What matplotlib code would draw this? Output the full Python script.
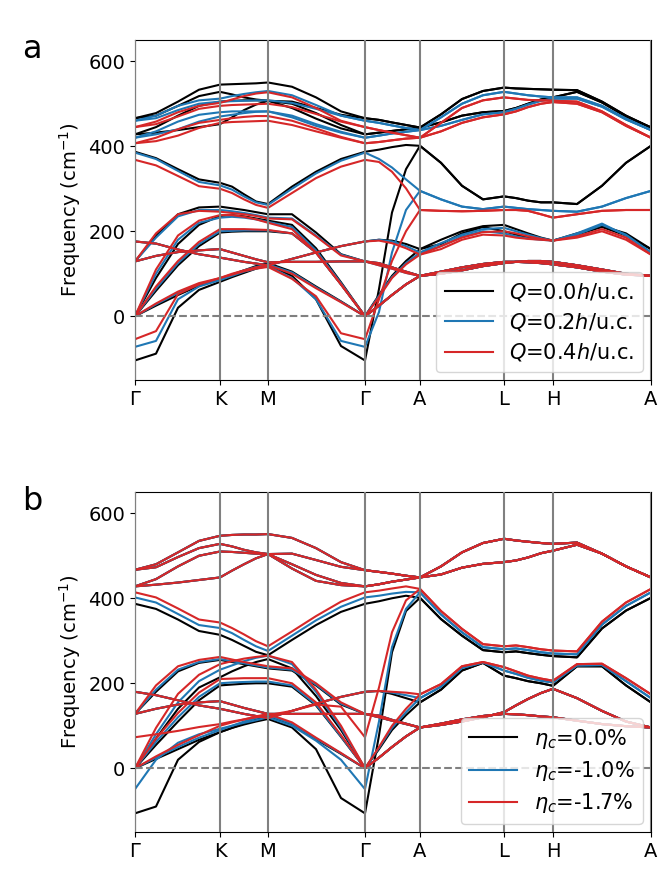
import matplotlib.pyplot as plt

# k-path positions (4 steps per segment) and high-symmetry points
kpath = [0, 21, 43, 64, 85, 97, 109, 121, 133, 157, 181, 206, 230, 244, 257, 271, 285,
         306, 327, 348, 369, 381, 393, 406, 418, 442, 467, 491, 516]
kticks = [0, 85, 133, 230, 285, 369, 418, 516]
klabels = ['Γ', 'K', 'M', 'Γ', 'A', 'L', 'H', 'A']

colors = ['black', '#1f77b4', '#d62728']
labels_a = [r'$Q$=0.0$h$/u.c.', r'$Q$=0.2$h$/u.c.', r'$Q$=0.4$h$/u.c.']
labels_b = [r'$\eta_c$=0.0%', r'$\eta_c$=-1.0%', r'$\eta_c$=-1.7%']

# ---------------- panel a : hole doping ----------------
# values along A-L-H-A (after the first A)
tU1_a0 = [475, 511, 530, 538, 536, 535, 534, 533, 532, 505, 472, 444]
tU2_a0 = [456, 472, 480, 483, 490, 500, 510, 515, 528, 503, 470, 444]
tD_a0 = [361, 307, 275, 282, 278, 272, 268, 268, 264, 307, 361, 401]
tHump_a0 = [180, 200, 212, 215, 205, 195, 185, 178, 195, 212, 195, 158]
tHump2_a0 = [170, 195, 210, 200, 192, 186, 182, 178, 192, 210, 190, 158]
tLow_a = [105, 115, 123, 128, 128, 127, 125, 122, 115, 105, 98, 95]
tLow2_a = [100, 108, 118, 125, 128, 130, 130, 128, 120, 110, 100, 95]

tU1_a2 = [468, 500, 520, 528, 524, 520, 517, 515, 515, 495, 465, 438]
tU2_a2 = [448, 462, 475, 480, 488, 498, 507, 512, 512, 493, 463, 438]
tD_a2 = [275, 258, 252, 258, 255, 252, 250, 248, 246, 258, 278, 295]
tHump_a2 = [172, 192, 205, 208, 200, 192, 184, 178, 192, 215, 192, 150]
tHump2_a2 = [165, 188, 200, 195, 188, 183, 180, 178, 195, 218, 190, 150]

tU1_a4 = [455, 490, 508, 515, 512, 509, 508, 507, 505, 482, 450, 420]
tU2_a4 = [435, 455, 468, 475, 482, 492, 500, 504, 500, 480, 448, 420]
tD_a4 = [248, 247, 248, 250, 250, 248, 240, 232, 240, 248, 250, 250]
tHump_a4 = [165, 185, 198, 200, 195, 188, 182, 178, 188, 205, 185, 145]
tHump2_a4 = [158, 180, 192, 190, 185, 182, 180, 178, 185, 200, 180, 145]

# Γ-K-M-Γ-A part, Q = 0.0
U1_a0 = [466, 478, 505, 533, 545, 546, 547, 548, 550, 540, 515, 482, 466, 462, 456, 450, 444]
U2_a0 = [466, 472, 495, 518, 528, 522, 515, 510, 507, 505, 490, 474, 466, 462, 456, 450, 444]
U3_a0 = [428, 445, 472, 495, 505, 507, 508, 508, 507, 500, 478, 450, 428, 432, 436, 440, 444]
U4_a0 = [428, 432, 438, 445, 452, 468, 485, 498, 507, 490, 465, 442, 428, 432, 436, 440, 444]
E_a0 = [387, 372, 346, 322, 314, 305, 287, 270, 264, 305, 340, 370, 387, 392, 398, 403, 401]
S_a0 = [-104, -88, 20, 62, 81, 92, 102, 112, 120, 95, 40, -70, -104, 64, 244, 346, 401]
L1_a0 = [129, 189, 240, 256, 258, 254, 250, 245, 240, 240, 197, 146, 129, 122, 115, 104, 95]
L2_a0 = [176, 171, 157, 146, 138, 133, 128, 124, 120, 135, 150, 165, 176, 180, 178, 170, 158]
L3_a = [129, 142, 151, 155, 158, 150, 142, 134, 127, 128, 128, 129, 129, 125, 115, 105, 95]
A1_a0 = [0, 90, 170, 215, 236, 238, 235, 230, 225, 215, 160, 80, 0, 50, 95, 130, 158]
A2_a0 = [0, 60, 120, 165, 197, 199, 200, 200, 200, 195, 150, 75, 0, 25, 50, 75, 95]
A3_a0 = [0, 25, 50, 72, 88, 98, 108, 118, 125, 105, 70, 35, 0, 25, 50, 75, 95]

# Q = 0.2
U1_a2 = [460, 472, 495, 508, 512, 518, 523, 527, 530, 520, 497, 472, 460, 455, 449, 443, 438]
U2_a2 = [460, 466, 485, 500, 505, 506, 507, 508, 508, 502, 488, 472, 460, 455, 449, 443, 438]
U3_a2 = [420, 435, 458, 474, 480, 482, 482, 482, 482, 472, 452, 434, 420, 425, 430, 434, 438]
U4_a2 = [420, 428, 440, 458, 470, 474, 478, 481, 482, 468, 448, 432, 420, 425, 430, 434, 438]
E_a2 = [385, 370, 342, 316, 308, 298, 282, 268, 262, 300, 336, 366, 385, 370, 350, 322, 295]
S_a2 = [-72, -58, 40, 70, 85, 95, 105, 112, 118, 90, 40, -58, -72, 10, 150, 250, 295]
L1_a2 = [129, 185, 235, 250, 250, 247, 243, 238, 232, 230, 190, 145, 129, 120, 112, 102, 95]
L2_a2 = [176, 171, 157, 146, 138, 133, 128, 124, 120, 135, 150, 165, 176, 180, 176, 165, 150]
A1_a2 = [0, 100, 180, 220, 232, 234, 232, 228, 222, 210, 155, 78, 0, 48, 92, 125, 150]
A2_a2 = [0, 65, 125, 170, 200, 201, 202, 202, 202, 195, 150, 75, 0, 25, 50, 75, 95]
A3_a2 = [0, 28, 55, 75, 88, 98, 108, 116, 122, 103, 68, 34, 0, 25, 50, 75, 95]

# Q = 0.4
U1_a4 = [445, 458, 480, 495, 502, 510, 518, 524, 527, 515, 490, 460, 445, 438, 432, 426, 420]
U2_a4 = [445, 452, 470, 488, 495, 497, 498, 499, 500, 492, 476, 458, 445, 438, 432, 426, 420]
U3_a4 = [407, 420, 440, 455, 462, 466, 469, 471, 471, 460, 442, 422, 407, 410, 414, 418, 420]
U4_a4 = [407, 412, 425, 443, 455, 457, 458, 459, 460, 450, 435, 420, 407, 410, 414, 418, 420]
E_a4 = [368, 355, 330, 306, 300, 290, 275, 262, 255, 290, 325, 352, 368, 363, 340, 301, 250]
S_a4 = [-54, -35, 52, 75, 90, 98, 106, 112, 116, 88, 47, -40, -54, 40, 130, 200, 250]
L1_a4 = [129, 195, 240, 248, 246, 243, 240, 236, 230, 228, 188, 143, 129, 120, 112, 102, 95]
L2_a4 = [176, 171, 157, 146, 138, 133, 128, 124, 120, 135, 150, 165, 176, 178, 172, 160, 145]
A1_a4 = [0, 110, 190, 225, 238, 238, 234, 228, 220, 205, 150, 75, 0, 45, 90, 122, 145]
A2_a4 = [0, 70, 130, 175, 205, 205, 205, 204, 203, 195, 150, 75, 0, 25, 50, 75, 95]
A3_a4 = [0, 30, 58, 78, 90, 100, 108, 115, 120, 100, 66, 33, 0, 25, 50, 75, 95]

bands_a0 = [U1_a0 + tU1_a0, U2_a0 + tU2_a0, U3_a0 + tU2_a0, U4_a0 + tU1_a0,
            E_a0 + tD_a0, S_a0 + tD_a0, L1_a0 + tLow_a, L2_a0 + tHump_a0,
            L3_a + tLow2_a, A1_a0 + tHump2_a0, A2_a0 + tLow_a, A3_a0 + tLow2_a]
bands_a2 = [U1_a2 + tU1_a2, U2_a2 + tU2_a2, U3_a2 + tU2_a2, U4_a2 + tU1_a2,
            E_a2 + tD_a2, S_a2 + tD_a2, L1_a2 + tLow_a, L2_a2 + tHump_a2,
            L3_a + tLow2_a, A1_a2 + tHump2_a2, A2_a2 + tLow_a, A3_a2 + tLow2_a]
bands_a4 = [U1_a4 + tU1_a4, U2_a4 + tU2_a4, U3_a4 + tU2_a4, U4_a4 + tU1_a4,
            E_a4 + tD_a4, S_a4 + tD_a4, L1_a4 + tLow_a, L2_a4 + tHump_a4,
            L3_a + tLow2_a, A1_a4 + tHump2_a4, A2_a4 + tLow_a, A3_a4 + tLow2_a]

# ---------------- panel b : strain ----------------
tUb1 = [475, 508, 530, 540, 536, 533, 530, 528, 531, 505, 475, 449]
tUb2 = [456, 472, 481, 485, 489, 496, 506, 512, 526, 505, 475, 449]
tD_b0 = [351, 312, 278, 273, 275, 271, 267, 264, 261, 329, 371, 401]
tD_b1 = [362, 320, 285, 280, 282, 278, 273, 270, 268, 338, 382, 414]
tD_b2 = [370, 328, 292, 287, 289, 285, 280, 277, 275, 345, 390, 422]
tHump_b0 = [185, 230, 248, 218, 212, 205, 200, 194, 240, 240, 195, 155]
tHump_b1 = [192, 236, 249, 230, 222, 213, 206, 202, 242, 243, 205, 165]
tHump_b2 = [198, 240, 250, 238, 228, 218, 211, 206, 245, 246, 212, 174]
tHpeak_b = [102, 110, 120, 132, 148, 163, 177, 187, 165, 135, 110, 96]
tLow_b = [105, 115, 123, 128, 127, 125, 122, 120, 112, 104, 99, 96]

Ub1 = [467, 480, 508, 535, 547, 549, 550, 550, 551, 542, 518, 485, 466, 462, 458, 453, 449]
Ub2 = [467, 473, 497, 518, 528, 522, 514, 508, 504, 505, 490, 474, 466, 462, 458, 453, 449]
Ub3 = [428, 445, 475, 500, 510, 509, 507, 505, 504, 480, 455, 436, 428, 433, 439, 444, 449]
Ub4 = [428, 432, 437, 443, 449, 465, 480, 494, 504, 470, 441, 431, 428, 433, 439, 444, 449]
Lb3 = [128, 140, 150, 155, 158, 150, 142, 135, 128, 128, 128, 128, 128, 124, 114, 105, 96]

Eb0 = [387, 375, 350, 323, 314, 302, 288, 274, 266, 302, 337, 368, 387, 393, 400, 406, 401]
Eb1 = [402, 390, 363, 337, 330, 318, 302, 287, 276, 312, 348, 380, 402, 406, 411, 415, 414]
Eb2 = [414, 402, 376, 350, 343, 330, 315, 299, 287, 322, 358, 392, 414, 418, 423, 428, 422]
Sb0 = [-106, -90, 20, 62, 85, 95, 103, 110, 116, 96, 45, -70, -106, 77, 273, 370, 401]
Sb1 = [-49, 20, 60, 80, 93, 100, 107, 113, 120, 100, 65, 20, -49, 110, 285, 375, 414]
Sb2 = [73, 80, 88, 97, 104, 110, 115, 120, 125, 135, 150, 145, 73, 190, 320, 395, 422]
Lb1_0 = [128, 180, 228, 248, 255, 250, 245, 240, 235, 230, 195, 150, 128, 120, 112, 104, 96]
Lb1_1 = [128, 185, 232, 250, 257, 252, 247, 242, 237, 232, 197, 152, 128, 120, 112, 104, 96]
Lb1_2 = [128, 195, 240, 255, 262, 256, 250, 245, 240, 235, 200, 155, 128, 120, 112, 104, 96]
Lb2_0 = [180, 172, 160, 148, 140, 134, 128, 123, 118, 135, 152, 168, 180, 182, 175, 165, 155]
Lb2_1 = [180, 172, 160, 148, 140, 134, 128, 123, 118, 135, 152, 168, 180, 182, 178, 172, 165]
Lb2_2 = [180, 172, 160, 148, 140, 134, 128, 123, 118, 135, 152, 168, 180, 182, 180, 178, 174]
Ab1_0 = [0, 70, 140, 190, 214, 228, 240, 250, 257, 235, 170, 90, 0, 45, 90, 125, 155]
Ab1_1 = [0, 80, 155, 205, 232, 242, 252, 260, 265, 245, 180, 95, 0, 48, 95, 132, 165]
Ab1_2 = [0, 95, 175, 220, 245, 252, 258, 262, 265, 250, 185, 100, 0, 50, 100, 140, 174]
Ab2_0 = [0, 55, 110, 160, 195, 197, 199, 200, 200, 192, 148, 74, 0, 25, 50, 75, 96]
Ab2_1 = [0, 62, 120, 168, 200, 202, 203, 204, 204, 195, 150, 75, 0, 25, 50, 75, 96]
Ab2_2 = [0, 70, 130, 178, 210, 211, 212, 212, 212, 200, 155, 78, 0, 25, 50, 75, 96]
Ab3_0 = [0, 22, 45, 67, 85, 95, 105, 115, 122, 102, 68, 34, 0, 25, 50, 75, 96]
Ab3_1 = [0, 25, 50, 72, 90, 100, 110, 118, 125, 105, 70, 35, 0, 25, 50, 75, 96]
Ab3_2 = [0, 28, 55, 78, 100, 108, 115, 122, 128, 108, 72, 36, 0, 25, 50, 75, 96]

bands_b0 = [Ub1 + tUb1, Ub2 + tUb2, Ub3 + tUb2, Ub4 + tUb1, Eb0 + tD_b0, Sb0 + tD_b0,
            Lb1_0 + tLow_b, Lb2_0 + tHump_b0, Lb3 + tHpeak_b, Ab1_0 + tHump_b0,
            Ab2_0 + tLow_b, Ab3_0 + tHpeak_b]
bands_b1 = [Ub1 + tUb1, Ub2 + tUb2, Ub3 + tUb2, Ub4 + tUb1, Eb1 + tD_b1, Sb1 + tD_b1,
            Lb1_1 + tLow_b, Lb2_1 + tHump_b1, Lb3 + tHpeak_b, Ab1_1 + tHump_b1,
            Ab2_1 + tLow_b, Ab3_1 + tHpeak_b]
bands_b2 = [Ub1 + tUb1, Ub2 + tUb2, Ub3 + tUb2, Ub4 + tUb1, Eb2 + tD_b2, Sb2 + tD_b2,
            Lb1_2 + tLow_b, Lb2_2 + tHump_b2, Lb3 + tHpeak_b, Ab1_2 + tHump_b2,
            Ab2_2 + tLow_b, Ab3_2 + tHpeak_b]

plt.rcParams['font.size'] = 14

fig = plt.figure(figsize=(6.64, 8.75), dpi=100)
ax1 = fig.add_axes([0.2033, 0.5657, 0.7771, 0.3886])
ax2 = fig.add_axes([0.2033, 0.0491, 0.7771, 0.3886])


def draw(ax, series, labels):
    for bands, c, lab in zip(series, colors, labels):
        for i, b in enumerate(bands):
            ax.plot(kpath, b, color=c, lw=1.5, label=lab if i == 0 else None, zorder=2)
    for k in kticks:
        ax.axvline(k, color='grey', lw=1.5, zorder=3)
    ax.axhline(0, color='grey', ls='--', lw=1.5, zorder=3)
    ax.set_xlim(kticks[0], kticks[-1])
    ax.set_ylim(-150, 650)
    ax.set_xticks(kticks)
    ax.set_xticklabels(klabels)
    ax.set_yticks([0, 200, 400, 600])
    ax.set_ylabel('Frequency (cm$^{-1}$)')
    ax.legend(loc='lower right', fontsize=15, handlelength=2.3, labelspacing=0.4,
              borderaxespad=0.4)


draw(ax1, [bands_a0, bands_a2, bands_a4], labels_a)
draw(ax2, [bands_b0, bands_b1, bands_b2], labels_b)

fig.text(0.033, 0.934, 'a', fontsize=23)
fig.text(0.033, 0.417, 'b', fontsize=23)

fig.savefig('out.png', dpi=100)
